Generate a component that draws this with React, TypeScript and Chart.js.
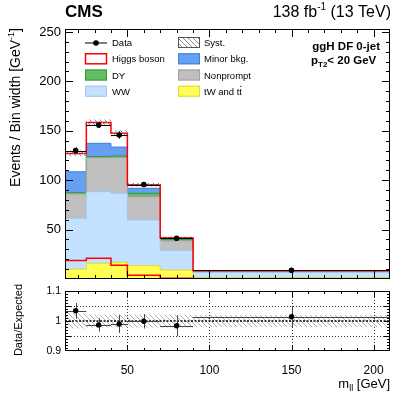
import React, { useEffect, useRef } from 'react';
import { Chart, registerables } from 'chart.js';
Chart.register(...registerables);

const FONT = "'Liberation Sans', Arial, Helvetica, sans-serif";

// Binning (m_ll, GeV)
const binEdges = [12, 25, 40, 50, 70, 90, 210];
// Observed data (events / bin width) and stat. errors
const dataValues = [129.9, 155.9, 145.7, 95.6, 41.2, 8.8];
const dataErrors = [3.3, 3.2, 3.8, 2.2, 1.4, 0.3];
// Stacked processes (bottom to top)
const topValues = [10, 16, 17, 13.5, 9.1, 1.5]; // tW and tt̄
const wwValues = [51.4, 72.4, 69.7, 46.2, 19.8, 5.3];
const nonpromptValues = [24.6, 34.4, 36.3, 23.6, 9.8, 0.7];
const dyValues = [1.5, 1.2, 1.5, 3.4, 1.3, 0.2];
const minorValues = [21, 13.3, 9, 5.1, 1, 0.3];
const higgsValues = [18.6, 21, 14, 3.7, 0.8, 0.3];
const systErrors = [3, 3, 3, 2, 1, 0.2];
// Ratio panel
const ratioValues = [1.034, 0.987, 0.99, 0.999, 0.984, 1.014];
const ratioErrors = [0.026, 0.022, 0.03, 0.024, 0.035, 0.035];
const ratioSyst = [0.025, 0.022, 0.022, 0.022, 0.022, 0.02];
// Tick labels
const mainYTicks = [50, 100, 150, 200, 250];
const xTicks = [50, 100, 150, 200];
const ratioYTicks = [0.9, 0.95, 1, 1.05, 1.1];

const centers = binEdges.slice(0, -1).map((lo, i) => (lo + binEdges[i + 1]) / 2);

function stepPoints(vals: number[]) {
  return binEdges.map((x, i) => ({ x, y: vals[Math.min(i, vals.length - 1)] }));
}
function addArr(a: number[], b: number[]) {
  return a.map((v, i) => v + b[i]);
}

const cum1 = topValues;
const cum2 = addArr(cum1, wwValues);
const cum3 = addArr(cum2, nonpromptValues);
const cum4 = addArr(cum3, dyValues);
const cum5 = addArr(cum4, minorValues);
const cum6 = addArr(cum5, higgsValues);

const COLORS = {
  top: '#ffff55', topB: '#d8d840',
  ww: '#c4e1ff', wwB: '#9fc8f0',
  np: '#bfbfbf', npB: '#a0a0a0',
  dy: '#62be62', dyB: '#3a9a3a',
  minor: '#66a0f2', minorB: '#3f7fd8',
  higgs: '#ff0000',
};

function makeHatch(color: string) {
  const c = document.createElement('canvas');
  c.width = 5; c.height = 5;
  const g = c.getContext('2d')!;
  g.strokeStyle = color; g.lineWidth = 1;
  g.beginPath();
  g.moveTo(-1, -1); g.lineTo(6, 6);
  g.moveTo(-1, 4); g.lineTo(1, 6);
  g.moveTo(4, -1); g.lineTo(6, 1);
  g.stroke();
  return g.createPattern(c, 'repeat')!;
}

type Part = { t: string; font: string; dy?: number; over?: boolean };
function drawRich(ctx: CanvasRenderingContext2D, parts: Part[], x: number, y: number, align: 'left' | 'right' | 'center') {
  let w = 0;
  for (const p of parts) { ctx.font = p.font; w += ctx.measureText(p.t).width; }
  let cx = align === 'left' ? x : align === 'right' ? x - w : x - w / 2;
  ctx.textAlign = 'left';
  ctx.textBaseline = 'alphabetic';
  for (const p of parts) {
    ctx.font = p.font;
    ctx.fillText(p.t, cx, y + (p.dy || 0));
    const pw = ctx.measureText(p.t).width;
    if (p.over) {
      ctx.save();
      ctx.lineWidth = 0.8;
      ctx.beginPath();
      ctx.moveTo(cx + 0.5, y - 8.3);
      ctx.lineTo(cx + pw - 0.5, y - 8.3);
      ctx.stroke();
      ctx.restore();
    }
    cx += pw;
  }
}

function drawFrameTicks(ctx: CanvasRenderingContext2D, chart: any, xVals: number[][], yVals: number[][], xLen: number[], yLen: number[]) {
  const { left, right, top, bottom } = chart.chartArea;
  const xs = chart.scales.x, ys = chart.scales.y;
  ctx.save();
  ctx.strokeStyle = '#000';
  ctx.lineWidth = 1;
  ctx.beginPath();
  for (const [v, maj] of xVals) {
    const px = Math.round(xs.getPixelForValue(v)) + 0.5;
    const l = maj ? xLen[0] : xLen[1];
    ctx.moveTo(px, bottom); ctx.lineTo(px, bottom - l);
    ctx.moveTo(px, top); ctx.lineTo(px, top + l);
  }
  for (const [v, maj] of yVals) {
    const py = Math.round(ys.getPixelForValue(v)) + 0.5;
    const l = maj ? yLen[0] : yLen[1];
    ctx.moveTo(left, py); ctx.lineTo(left + l, py);
    ctx.moveTo(right, py); ctx.lineTo(right - l, py);
  }
  ctx.stroke();
  ctx.strokeRect(left + 0.5, top + 0.5, right - left - 1, bottom - top - 1);
  ctx.restore();
}

const mainDecor = {
  id: 'mainDecor',
  beforeDatasetDraw(chart: any, args: any) {
    if (args.index !== 0) return;
    const { ctx } = chart;
    const x = chart.scales.x, y = chart.scales.y;
    ctx.save();
    ctx.strokeStyle = '#000';
    ctx.lineWidth = 1;
    ctx.beginPath();
    dataValues.forEach((v, i) => {
      const px = Math.round(x.getPixelForValue(centers[i])) + 0.5;
      const py = Math.round(y.getPixelForValue(v)) + 0.5;
      ctx.moveTo(x.getPixelForValue(binEdges[i]), py);
      ctx.lineTo(x.getPixelForValue(binEdges[i + 1]), py);
      ctx.moveTo(px, y.getPixelForValue(v + dataErrors[i]));
      ctx.lineTo(px, y.getPixelForValue(v - dataErrors[i]));
    });
    ctx.stroke();
    ctx.restore();
  },
  afterDraw(chart: any) {
    const { ctx } = chart;
    const xv: number[][] = [];
    for (let v = 20; v <= 200; v += 10) xv.push([v, v % 50 === 0 ? 1 : 0]);
    const yv: number[][] = [];
    for (let v = 10; v <= 250; v += 10) yv.push([v, v % 50 === 0 ? 1 : 0]);
    drawFrameTicks(ctx, chart, xv, yv, [8, 4], [8, 4]);

    ctx.save();
    ctx.fillStyle = '#000';
    ctx.strokeStyle = '#000';
    drawRich(ctx, [{ t: 'CMS', font: `bold 17px ${FONT}` }], 65, 17, 'left');
    drawRich(ctx, [
      { t: '138 fb', font: `16px ${FONT}` },
      { t: '-1', font: `10px ${FONT}`, dy: -7 },
      { t: ' (13 TeV)', font: `16px ${FONT}` },
    ], 391, 17, 'right');
    drawRich(ctx, [{ t: 'ggH DF 0-jet', font: `bold 11.5px ${FONT}` }], 380, 50, 'right');
    drawRich(ctx, [
      { t: 'p', font: `bold 11.5px ${FONT}` },
      { t: 'T2', font: `bold 8px ${FONT}`, dy: 3 },
      { t: '< 20 GeV', font: `bold 11.5px ${FONT}` },
    ], 311, 64, 'left');
    ctx.save();
    ctx.translate(20, 28);
    ctx.rotate(-Math.PI / 2);
    drawRich(ctx, [
      { t: 'Events / Bin width [GeV', font: `14px ${FONT}` },
      { t: '-1', font: `9px ${FONT}`, dy: -6 },
      { t: ']', font: `14px ${FONT}` },
    ], 0, 0, 'right');
    ctx.restore();

    const rows = [42.5, 58.8, 75, 91.2];
    const lf = `9.5px ${FONT}`;
    const box = (x0: number, cy: number, fill: any, stroke: string, lw: number) => {
      ctx.save();
      ctx.fillStyle = fill;
      ctx.fillRect(x0, cy - 5.5, 22, 11);
      ctx.strokeStyle = stroke;
      ctx.lineWidth = lw;
      ctx.strokeRect(x0 + 0.5, cy - 5, 21, 10);
      ctx.restore();
    };
    ctx.save();
    ctx.lineWidth = 1;
    ctx.beginPath();
    ctx.moveTo(85, rows[0] + 0.5); ctx.lineTo(107, rows[0] + 0.5);
    ctx.stroke();
    ctx.beginPath();
    ctx.arc(96, rows[0] + 0.5, 2.8, 0, Math.PI * 2);
    ctx.fill();
    ctx.restore();
    box(85, rows[1], '#ffffff', COLORS.higgs, 1.5);
    box(85, rows[2], COLORS.dy, COLORS.dyB, 1);
    box(85, rows[3], COLORS.ww, COLORS.wwB, 1);
    box(178, rows[0], chart.$hatch, '#555555', 1);
    box(178, rows[1], COLORS.minor, COLORS.minorB, 1);
    box(178, rows[2], COLORS.np, COLORS.npB, 1);
    box(178, rows[3], COLORS.top, COLORS.topB, 1);
    const lbl = (t: Part[], x: number, cy: number) => drawRich(ctx, t, x, cy + 3.5, 'left');
    lbl([{ t: 'Data', font: lf }], 112, rows[0]);
    lbl([{ t: 'Higgs boson', font: lf }], 112, rows[1]);
    lbl([{ t: 'DY', font: lf }], 112, rows[2]);
    lbl([{ t: 'WW', font: lf }], 112, rows[3]);
    lbl([{ t: 'Syst.', font: lf }], 204, rows[0]);
    lbl([{ t: 'Minor bkg.', font: lf }], 204, rows[1]);
    lbl([{ t: 'Nonprompt', font: lf }], 204, rows[2]);
    lbl([{ t: 'tW and t', font: lf }, { t: 't', font: lf, over: true }], 204, rows[3]);
    ctx.restore();
  },
};

const ratioDecor = {
  id: 'ratioDecor',
  beforeDatasetsDraw(chart: any) {
    const { ctx } = chart;
    const { left, right, top, bottom } = chart.chartArea;
    const x = chart.scales.x, y = chart.scales.y;
    ctx.save();
    ctx.strokeStyle = '#333';
    ctx.lineWidth = 1;
    ctx.setLineDash([1, 2]);
    ctx.beginPath();
    for (const v of xTicks) {
      const px = Math.round(x.getPixelForValue(v)) + 0.5;
      ctx.moveTo(px, top); ctx.lineTo(px, bottom);
    }
    for (const v of [0.95, 1.05]) {
      const py = Math.round(y.getPixelForValue(v)) + 0.5;
      ctx.moveTo(left, py); ctx.lineTo(right, py);
    }
    ctx.stroke();
    ctx.restore();
  },
  beforeDatasetDraw(chart: any, args: any) {
    if (args.index !== 0) return;
    const { ctx } = chart;
    const { left, right } = chart.chartArea;
    const x = chart.scales.x, y = chart.scales.y;
    ctx.save();
    ctx.strokeStyle = '#000';
    ctx.lineWidth = 1.6;
    ctx.setLineDash([2, 1.5]);
    ctx.beginPath();
    const p1 = y.getPixelForValue(1);
    ctx.moveTo(left, p1); ctx.lineTo(right, p1);
    ctx.stroke();
    ctx.setLineDash([]);
    ctx.lineWidth = 1;
    ctx.strokeStyle = '#444';
    ctx.beginPath();
    ratioValues.forEach((v, i) => {
      const px = Math.round(x.getPixelForValue(centers[i])) + 0.5;
      const py = Math.round(y.getPixelForValue(v)) + 0.5;
      ctx.moveTo(x.getPixelForValue(binEdges[i]), py);
      ctx.lineTo(x.getPixelForValue(binEdges[i + 1]), py);
      ctx.moveTo(px, y.getPixelForValue(v + ratioErrors[i]));
      ctx.lineTo(px, y.getPixelForValue(v - ratioErrors[i]));
    });
    ctx.stroke();
    ctx.restore();
  },
  afterDraw(chart: any) {
    const { ctx } = chart;
    const xv: number[][] = [];
    for (let v = 20; v <= 200; v += 10) xv.push([v, v % 50 === 0 ? 1 : 0]);
    const yv: number[][] = [];
    for (let k = 91; k <= 109; k++) yv.push([k / 100, k % 5 === 0 ? 1 : 0]);
    drawFrameTicks(ctx, chart, xv, yv, [6, 3], [6, 3]);
    ctx.save();
    ctx.fillStyle = '#000';
    drawRich(ctx, [
      { t: 'm', font: `13px ${FONT}` },
      { t: 'll', font: `9px ${FONT}`, dy: 3 },
      { t: ' [GeV]', font: `13px ${FONT}` },
    ], 390, 388, 'right');
    ctx.translate(22, 320);
    ctx.rotate(-Math.PI / 2);
    drawRich(ctx, [{ t: 'Data/Expected', font: `11px ${FONT}` }], 0, 0, 'center');
    ctx.restore();
  },
};

export default function App() {
  const ref1 = useRef<HTMLCanvasElement>(null);
  const ref2 = useRef<HTMLCanvasElement>(null);

  useEffect(() => {
    const hatch = makeHatch('#8c8c8c');
    const ratioHatch = makeHatch('#b0b0b0');
    const line = (data: any, extra: any) => ({
      data, stepped: 'before', pointRadius: 0, borderWidth: 1, fill: false, ...extra,
    });

    const main = new Chart(ref1.current!, {
      type: 'line',
      data: {
        datasets: [
          {
            label: 'Data',
            data: centers.map((x, i) => ({ x, y: dataValues[i] })),
            showLine: false, pointRadius: 2.8, pointBackgroundColor: '#000', pointBorderWidth: 0, borderColor: '#000',
          } as any,
          line(stepPoints(higgsValues), { label: 'Higgs boson (alone)', borderColor: COLORS.higgs, borderWidth: 1.5 }),
          line(stepPoints(cum6.map((v, i) => v + systErrors[i])), { label: 'Syst. up', borderWidth: 0, borderColor: 'rgba(0,0,0,0)', fill: '+1', backgroundColor: hatch }),
          line(stepPoints(cum6.map((v, i) => v - systErrors[i])), { label: 'Syst. down', borderWidth: 0, borderColor: 'rgba(0,0,0,0)' }),
          line(stepPoints(cum6), { label: 'Higgs boson', borderColor: COLORS.higgs, borderWidth: 1.5 }),
          line(stepPoints(cum1), { label: 'tW and tt', borderColor: COLORS.topB, backgroundColor: COLORS.top, fill: 'origin' }),
          line(stepPoints(cum2), { label: 'WW', borderColor: COLORS.wwB, backgroundColor: COLORS.ww, fill: 'origin' }),
          line(stepPoints(cum3), { label: 'Nonprompt', borderColor: COLORS.npB, backgroundColor: COLORS.np, fill: 'origin' }),
          line(stepPoints(cum4), { label: 'DY', borderColor: COLORS.dyB, backgroundColor: COLORS.dy, fill: 'origin' }),
          line(stepPoints(cum5), { label: 'Minor bkg.', borderColor: COLORS.minorB, backgroundColor: COLORS.minor, fill: 'origin' }),
        ],
      },
      options: {
        responsive: false,
        maintainAspectRatio: false,
        animation: false,
        devicePixelRatio: 1,
        events: [],
        layout: { padding: { left: 0, right: 17, top: 29, bottom: 116 } },
        plugins: { legend: { display: false }, tooltip: { enabled: false } },
        scales: {
          x: { type: 'linear', min: 12, max: 210, display: false },
          y: {
            type: 'linear', min: 0, max: 253,
            afterBuildTicks: (s: any) => { s.ticks = mainYTicks.map((v) => ({ value: v })); },
            afterFit: (s: any) => { s.width = 65; },
            ticks: { color: '#000', padding: 4, font: { family: FONT, size: 13 } },
            grid: { display: false, drawTicks: false },
            border: { display: false },
          },
        },
      } as any,
      plugins: [mainDecor],
    });
    (main as any).$hatch = hatch;
    main.draw();

    const ratio = new Chart(ref2.current!, {
      type: 'line',
      data: {
        datasets: [
          {
            label: 'Data/Expected',
            data: centers.map((x, i) => ({ x, y: ratioValues[i] })),
            showLine: false, pointRadius: 2.7, pointBackgroundColor: '#000', pointBorderWidth: 0, borderColor: '#000',
          } as any,
          line(stepPoints(ratioSyst.map((e) => 1 + e)), { label: 'Syst. up', borderWidth: 0, borderColor: 'rgba(0,0,0,0)', fill: '+1', backgroundColor: ratioHatch }),
          line(stepPoints(ratioSyst.map((e) => 1 - e)), { label: 'Syst. down', borderWidth: 0, borderColor: 'rgba(0,0,0,0)' }),
        ],
      },
      options: {
        responsive: false,
        maintainAspectRatio: false,
        animation: false,
        devicePixelRatio: 1,
        events: [],
        layout: { padding: { left: 0, right: 17, top: 291, bottom: 0 } },
        plugins: { legend: { display: false }, tooltip: { enabled: false } },
        scales: {
          x: {
            type: 'linear', min: 12, max: 210,
            afterBuildTicks: (s: any) => { s.ticks = xTicks.map((v) => ({ value: v })); },
            afterFit: (s: any) => { s.height = 44; },
            ticks: { color: '#000', padding: 12, maxRotation: 0, autoSkip: false, font: { family: FONT, size: 12 } },
            grid: { display: false, drawTicks: false },
            border: { display: false },
          },
          y: {
            type: 'linear', min: 0.9, max: 1.1,
            afterBuildTicks: (s: any) => { s.ticks = ratioYTicks.map((v) => ({ value: v })); },
            afterFit: (s: any) => { s.width = 65; },
            ticks: { color: '#000', padding: 4, font: { family: FONT, size: 10.5 }, callback: (v: any) => String(v) },
            grid: { display: false, drawTicks: false },
            border: { display: false },
          },
        },
      } as any,
      plugins: [ratioDecor],
    });

    return () => { main.destroy(); ratio.destroy(); };
  }, []);

  return (
    <div style={{ position: 'absolute', left: 0, top: 0, width: 407, height: 395, background: '#fff' }}>
      <canvas ref={ref1} width={407} height={395} style={{ position: 'absolute', left: 0, top: 0 }} />
      <canvas ref={ref2} width={407} height={395} style={{ position: 'absolute', left: 0, top: 0 }} />
    </div>
  );
}
